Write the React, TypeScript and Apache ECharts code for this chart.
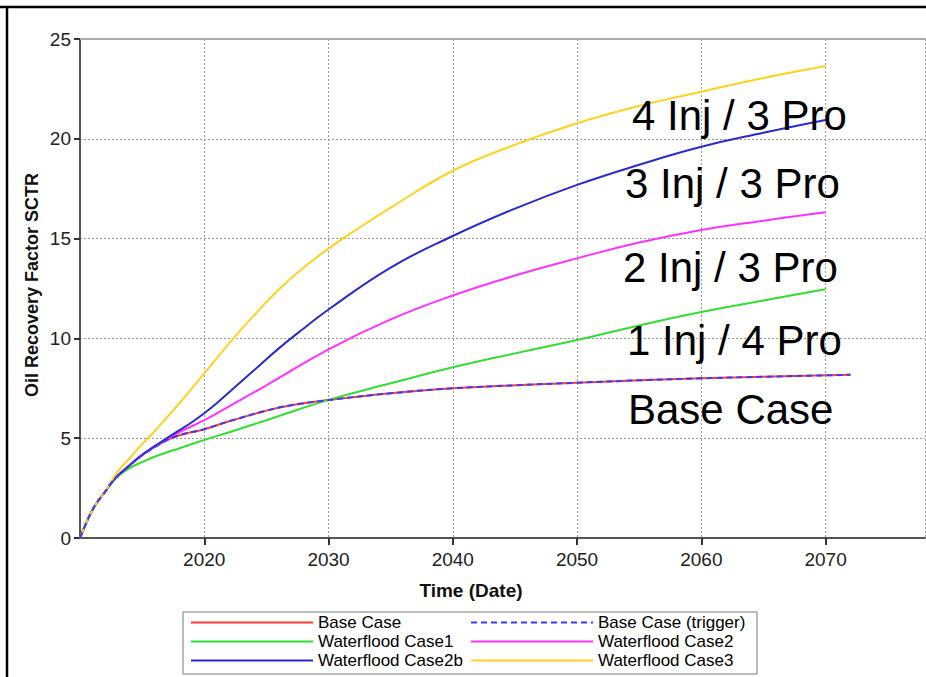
import React, { useEffect, useRef } from "react";
import * as echarts from "echarts";

// ---------- data ----------
const baseYears = [2010, 2010.5, 2011, 2011.5, 2012, 2012.5, 2013, 2014, 2015, 2016, 2017, 2018, 2020, 2022, 2025, 2027, 2030, 2035, 2040, 2045, 2050, 2055, 2060, 2065, 2070, 2072];
const baseValues = [0, 0.75, 1.4, 1.9, 2.3, 2.75, 3.1, 3.65, 4.15, 4.55, 4.9, 5.15, 5.45, 5.85, 6.38, 6.65, 6.91, 7.25, 7.5, 7.65, 7.78, 7.9, 8.0, 8.08, 8.15, 8.18];

const triggerYears = baseYears;
const triggerValues = baseValues;

const case1Years = [2010, 2010.5, 2011, 2011.5, 2012, 2013, 2014, 2015, 2016, 2018, 2020, 2022, 2025, 2030, 2035, 2040, 2045, 2050, 2055, 2060, 2065, 2070];
const case1Values = [0, 0.75, 1.4, 1.9, 2.3, 3.05, 3.5, 3.8, 4.07, 4.5, 4.91, 5.3, 5.9, 6.92, 7.75, 8.55, 9.25, 9.92, 10.65, 11.32, 11.9, 12.46];

const case2Years = [2010, 2010.5, 2011, 2011.5, 2012, 2012.5, 2013, 2014, 2015, 2016, 2017, 2018, 2020, 2022, 2025, 2030, 2035, 2040, 2045, 2050, 2055, 2060, 2065, 2070];
const case2Values = [0, 0.75, 1.4, 1.9, 2.3, 2.75, 3.1, 3.65, 4.15, 4.57, 4.93, 5.3, 5.9, 6.6, 7.65, 9.45, 10.95, 12.15, 13.15, 14.01, 14.8, 15.43, 15.9, 16.32];

const case2bYears = [2010, 2010.5, 2011, 2011.5, 2012, 2012.5, 2013, 2014, 2015, 2016, 2017, 2018, 2019, 2020, 2021, 2022, 2024, 2026, 2028, 2030, 2035, 2040, 2045, 2050, 2055, 2060, 2065, 2070];
const case2bValues = [0, 0.75, 1.4, 1.9, 2.3, 2.75, 3.1, 3.65, 4.17, 4.6, 5.0, 5.4, 5.8, 6.25, 6.75, 7.3, 8.4, 9.5, 10.5, 11.45, 13.55, 15.13, 16.5, 17.69, 18.7, 19.6, 20.3, 20.94];

const case3Years = [2010, 2010.5, 2011, 2011.5, 2012, 2013, 2014, 2015, 2016, 2017, 2018, 2019, 2020, 2022, 2024, 2026, 2028, 2030, 2032, 2035, 2040, 2045, 2050, 2055, 2060, 2065, 2070];
const case3Values = [0, 0.75, 1.4, 1.9, 2.3, 3.3, 4.0, 4.7, 5.35, 6.05, 6.75, 7.5, 8.25, 9.75, 11.15, 12.45, 13.55, 14.5, 15.35, 16.55, 18.4, 19.7, 20.78, 21.65, 22.36, 23.05, 23.65];

const seriesNames = ["Base Case", "Base Case (trigger)", "Waterflood Case1", "Waterflood Case2", "Waterflood Case2b", "Waterflood Case3"];
const legendColumn1 = ["Base Case", "Waterflood Case1", "Waterflood Case2b"];
const legendColumn2 = ["Base Case (trigger)", "Waterflood Case2", "Waterflood Case3"];

const annotations = ["4 Inj / 3 Pro", "3 Inj / 3 Pro", "2 Inj / 3 Pro", "1 Inj / 4 Pro", "Base Case"];

const xMin = 2010;
const xMax = 2078;
const xInterval = 10;
const yMin = 0;
const yMax = 25;
const yInterval = 5;

const FONT = "'Liberation Sans', Arial, Helvetica, sans-serif";

function zip(xs: number[], ys: number[]) {
  return xs.map((x, i) => [x, ys[i]]);
}

export default function App() {
  const ref = useRef<HTMLDivElement>(null);

  useEffect(() => {
    if (!ref.current) return;
    const chart = echarts.init(ref.current, undefined, { renderer: "svg" });

    const mkLine = (name: string, xs: number[], ys: number[], color: string, z: number, dashed = false) => ({
      name,
      type: "line",
      data: zip(xs, ys),
      symbol: "none",
      showSymbol: false,
      smooth: 0.45,
      z,
      lineStyle: { color, width: 2, type: dashed ? [6, 4] : "solid" },
      itemStyle: { color },
      emphasis: { disabled: true },
    });

    // annotation label centres (pixel positions of the free text)
    const annX = [632, 625, 623, 627, 628];
    const annY = [115, 183, 267, 340, 409];

    const legendCommon = {
      orient: "vertical",
      top: 614,
      itemHeight: 14,
      itemGap: 2,
      padding: 0,
      selectedMode: false,
      itemStyle: { color: "rgba(0,0,0,0)", borderColor: "rgba(0,0,0,0)", borderWidth: 0, opacity: 0 },
      textStyle: { fontSize: 17, lineHeight: 17, color: "#000", fontFamily: FONT },
    };

    const option: any = {
      animation: false,
      backgroundColor: "#ffffff",
      textStyle: { fontFamily: FONT },
      grid: { left: 80, top: 39, right: 1, bottom: 139, containLabel: false, outerBoundsMode: "none" },
      xAxis: [
        {
          type: "value",
          min: xMin,
          max: xMax,
          interval: xInterval,
          axisLine: { show: true, lineStyle: { color: "#555", width: 2 } },
          axisTick: { show: true, length: 7, lineStyle: { color: "#333", width: 2 } },
          axisLabel: {
            show: true,
            showMinLabel: false,
            showMaxLabel: false,
            margin: 12,
            fontSize: 19,
            color: "#222",
            fontFamily: FONT,
            formatter: (v: number) => (v === xMin || v === xMax ? "" : String(v)),
          },
          splitLine: { show: true, lineStyle: { color: "#999", type: [2, 2], width: 1 } },
        },
        {
          type: "value",
          position: "top",
          min: xMin,
          max: xMax,
          interval: xInterval,
          axisLine: { show: true, lineStyle: { color: "#aaa", width: 2 } },
          axisTick: { show: false },
          axisLabel: { show: false },
          splitLine: { show: false },
        },
      ],
      yAxis: {
        type: "value",
        min: yMin,
        max: yMax,
        interval: yInterval,
        axisLine: { show: true, lineStyle: { color: "#555", width: 2 } },
        axisTick: { show: true, length: 6, lineStyle: { color: "#333", width: 2 } },
        axisLabel: { margin: 9, fontSize: 19, color: "#222", fontFamily: FONT },
        splitLine: { show: true, lineStyle: { color: "#999", type: [2, 2], width: 1 } },
      },
      legend: [
        { ...legendCommon, left: 190, itemWidth: 122, data: legendColumn1 },
        { ...legendCommon, left: 470, itemWidth: 122, data: legendColumn2 },
      ],
      series: [
        mkLine(seriesNames[0], baseYears, baseValues, "#ff3b3b", 2),
        mkLine(seriesNames[2], case1Years, case1Values, "#33dd33", 3),
        mkLine(seriesNames[3], case2Years, case2Values, "#ff33ff", 4),
        mkLine(seriesNames[4], case2bYears, case2bValues, "#2b2bcc", 5),
        mkLine(seriesNames[5], case3Years, case3Values, "#ffd21f", 6),
        mkLine(seriesNames[1], triggerYears, triggerValues, "#3a3aff", 7, true),
      ],
      graphic: [
        { type: "line", shape: { x1: 0, y1: 7, x2: 926, y2: 7 }, style: { stroke: "#000", lineWidth: 2.5 }, silent: true },
        { type: "line", shape: { x1: 7, y1: 6, x2: 7, y2: 677 }, style: { stroke: "#000", lineWidth: 2.5 }, silent: true },
        { type: "rect", shape: { x: 183, y: 612, width: 574, height: 62 }, style: { fill: "none", stroke: "#777", lineWidth: 1 }, silent: true },
        {
          type: "text",
          x: 32,
          y: 285,
          rotation: Math.PI / 2,
          style: { text: "Oil Recovery Factor SCTR", font: `bold 18px ${FONT}`, fill: "#111", align: "center", verticalAlign: "middle" },
          silent: true,
        },
        {
          type: "text",
          x: 471,
          y: 590,
          style: { text: "Time (Date)", font: `bold 19px ${FONT}`, fill: "#111", align: "center", verticalAlign: "middle" },
          silent: true,
        },
        ...annotations.map((t, i) => ({
          type: "text",
          x: annX[i],
          y: annY[i],
          z: 100,
          style: { text: t, font: `42px ${FONT}`, fill: "#000", align: "left", verticalAlign: "middle" },
          silent: true,
        })),
      ],
    };

    chart.setOption(option);
    return () => chart.dispose();
  }, []);

  return (
    <div
      ref={ref}
      style={{ position: "absolute", left: 0, top: 0, width: 926, height: 677, background: "#fff" }}
    />
  );
}
